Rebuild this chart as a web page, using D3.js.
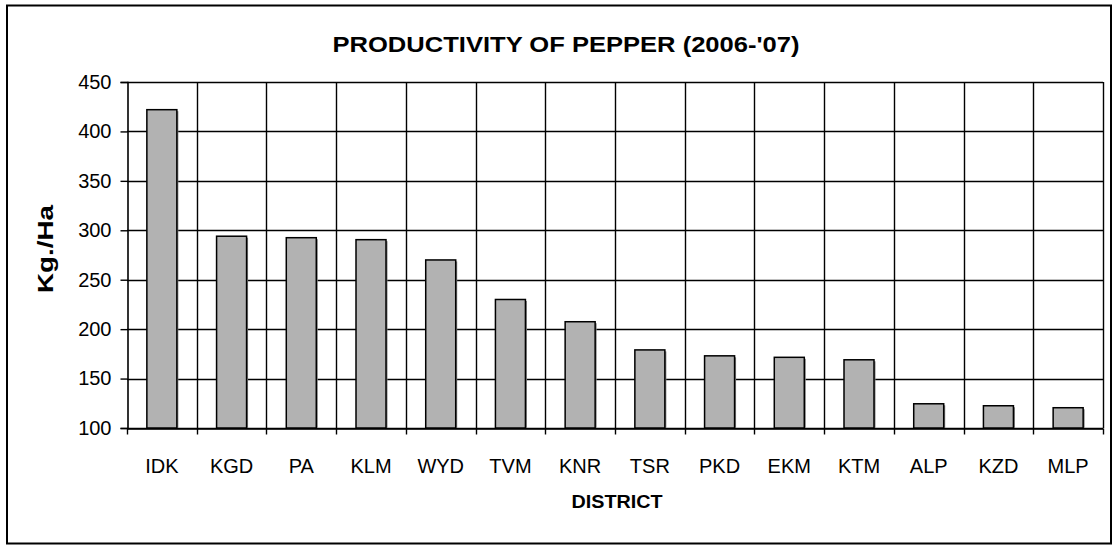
<!DOCTYPE html>
<html>
<head>
<meta charset="utf-8">
<script src="https://cdn.jsdelivr.net/npm/d3@7"></script>
<style>
  html, body { margin: 0; padding: 0; background: #fff; }
  svg { display: block; }
  text { font-family: "Liberation Sans", Arial, sans-serif; fill: #000; }
</style>
</head>
<body>
<svg id="chart" width="1118" height="545"></svg>
<script>
const districts = ["IDK","KGD","PA","KLM","WYD","TVM","KNR","TSR","PKD","EKM","KTM","ALP","KZD","MLP"];
const productivity = [422, 294, 292.5, 290.5, 270, 230, 207.5, 179, 173, 171.5, 169, 124.5, 122.5, 120.5];
const yTicks = [100, 150, 200, 250, 300, 350, 400, 450];
const titleText = "PRODUCTIVITY OF PEPPER (2006-'07)";
const xTitle = "DISTRICT";
const yTitle = "Kg./Ha";

const svg = d3.select("#chart");
const W = 1118, H = 545;
const m = { left: 127, right: 1103, top: 82, bottom: 428 };

svg.append("rect").attr("x", 7).attr("y", 5.5).attr("width", 1104).attr("height", 538)
  .attr("fill", "#fff").attr("stroke", "#000").attr("stroke-width", 2);

const x = d3.scaleBand().domain(districts).range([m.left, m.right]).paddingInner(0).paddingOuter(0);
const y = d3.scaleLinear().domain([100, 450]).range([m.bottom, m.top]);

// horizontal gridlines
svg.append("g").selectAll("line").data(yTicks).join("line")
  .attr("x1", m.left).attr("x2", m.right)
  .attr("y1", d => Math.round(y(d)) + 0.5).attr("y2", d => Math.round(y(d)) + 0.5)
  .attr("stroke", "#000").attr("stroke-width", 1.4);

// vertical gridlines at category boundaries
const bounds = districts.map(d => x(d)).concat([m.right]);
svg.append("g").selectAll("line").data(bounds.slice(1)).join("line")
  .attr("x1", d => Math.round(d) + 0.5).attr("x2", d => Math.round(d) + 0.5)
  .attr("y1", m.top).attr("y2", m.bottom)
  .attr("stroke", "#000").attr("stroke-width", 1.4);

// bars
const bw = 30;
const bars = svg.append("g");
bars.selectAll("rect.shadow").data(districts).join("rect").attr("class", "shadow")
  .attr("x", d => x(d) + x.bandwidth() / 2 - bw / 2 + 1.5)
  .attr("y", (d, i) => y(productivity[i]) + 1.5)
  .attr("width", bw).attr("height", (d, i) => m.bottom - y(productivity[i]) - 1.5)
  .attr("fill", "#808080");
bars.selectAll("rect.bar").data(districts).join("rect").attr("class", "bar")
  .attr("x", d => x(d) + x.bandwidth() / 2 - bw / 2)
  .attr("y", (d, i) => y(productivity[i]))
  .attr("width", bw).attr("height", (d, i) => m.bottom - y(productivity[i]))
  .attr("fill", "#b2b2b2").attr("stroke", "#000").attr("stroke-width", 1.5);

// y axis
const yAxis = d3.axisLeft(y).tickValues(yTicks).tickSize(7).tickPadding(9).tickFormat(d3.format("d"));
const gy = svg.append("g").attr("transform", `translate(${m.left + 0.5},0)`).call(yAxis);
gy.select(".domain").attr("stroke", "#000").attr("stroke-width", 1.6);
gy.selectAll(".tick line").attr("stroke", "#000").attr("stroke-width", 1.4);
gy.selectAll(".tick text").attr("font-size", 20).attr("font-family", "Liberation Sans, Arial, sans-serif").attr("fill", "#000");

// x axis
const xAxis = d3.axisBottom(x).tickSize(0).tickPadding(30);
const gx = svg.append("g").attr("transform", `translate(0,${m.bottom + 0.5})`).call(xAxis);
gx.select(".domain").attr("stroke", "#000").attr("stroke-width", 1.6);
gx.selectAll(".tick text").attr("font-size", 20).attr("font-family", "Liberation Sans, Arial, sans-serif").attr("fill", "#000");
gx.append("g").selectAll("line").data(bounds).join("line")
  .attr("x1", d => Math.round(d) + 0.5).attr("x2", d => Math.round(d) + 0.5)
  .attr("y1", 0).attr("y2", 6).attr("stroke", "#000").attr("stroke-width", 1.4);

// titles
svg.append("text").attr("x", 566).attr("y", 52).attr("text-anchor", "middle")
  .attr("font-size", 22).attr("font-weight", "bold")
  .attr("textLength", 467).attr("lengthAdjust", "spacingAndGlyphs").text(titleText);
svg.append("text").attr("x", 617).attr("y", 508).attr("text-anchor", "middle")
  .attr("font-size", 19).attr("font-weight", "bold")
  .attr("textLength", 91).attr("lengthAdjust", "spacingAndGlyphs").text(xTitle);
svg.append("text").attr("transform", "translate(53,249) rotate(-90)").attr("text-anchor", "middle")
  .attr("font-size", 22).attr("font-weight", "bold")
  .attr("textLength", 88).attr("lengthAdjust", "spacingAndGlyphs").text(yTitle);
</script>
</body>
</html>
